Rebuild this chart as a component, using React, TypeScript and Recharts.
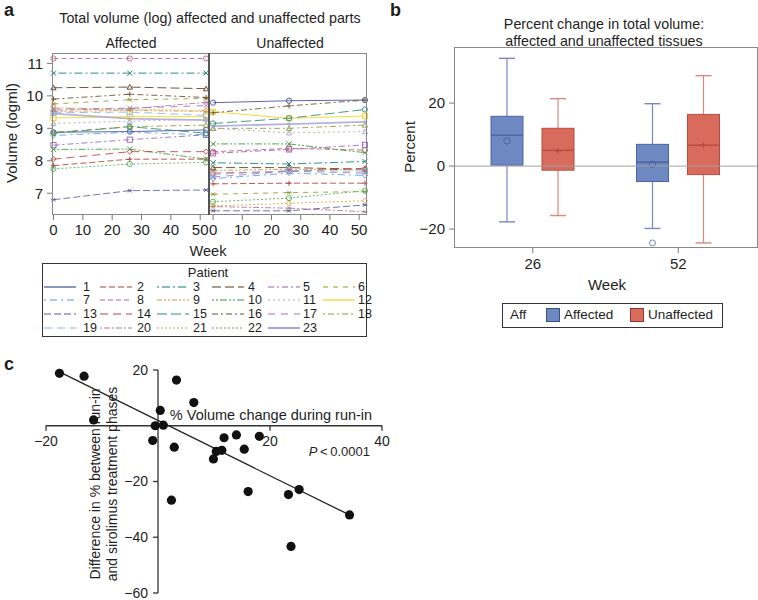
import React from 'react'
import {
  LineChart, Line, XAxis, YAxis, ComposedChart, Bar, ReferenceLine,
  ScatterChart, Scatter, ReferenceDot,
} from 'recharts'

// ---- panel a: volume per patient ----
const WEEKS = [0, 26, 52]
const PATIENTS = Array.from({ length: 23 }, (_, i) => String(i + 1))
const PATIENT_COLORS = [
  '#3f4f9a', '#b0403a', '#0f7c72', '#5a3a1e', '#9a5fb8', '#8f9a2a',
  '#5a9bd6', '#c0607a', '#c9973f', '#3a9a3a', '#a8a8c0', '#f2d21a',
  '#5a5fa0', '#c04040', '#2a8a70', '#6a4a2a', '#a070c0', '#8a9a40',
  '#8ab4dc', '#b07890', '#e8a040', '#50b050', '#a8a4d8',
]
const PATIENT_DASH = [
  undefined, '6 3', '2 3 8 3', '9 4', '6 3 2 3', '5 5',
  '2 4 7 4', '5 3', '5 2 2 2 2 2', '2 2 2 2 7 2', '2 3', undefined,
  '7 3', '8 5', '10 4', '6 3 2 3', '7 6', '2 3 6 3',
  '8 5', '2 2 6 2', '2 2', '2 2', undefined,
]
const MARKERS = ['circle', 'plus', 'x', 'triangle', 'square', 'star', 'diamond']

// log volume at week 0 / 26 / 52, one row per patient
const AFFECTED = [
  [8.88, 8.90, 8.95], [7.85, 8.05, 8.05], [10.70, 10.70, 10.70], [10.25, 10.27, 10.22],
  [8.48, 8.65, 8.80], [9.75, 9.88, 9.92], [8.78, 8.88, 8.80], [11.15, 11.15, 11.15],
  [9.52, 9.55, 9.52], [8.35, 8.36, 8.05], [9.15, 9.22, 9.28], [9.32, 9.36, 9.36],
  [6.80, 7.08, 7.10], [8.05, 8.28, 8.28], [8.85, 9.05, 8.85], [9.90, 10.05, 9.95],
  [9.60, 9.62, 9.70], [8.88, 9.05, 9.10], [9.48, 9.50, 9.40], [9.56, 9.60, 9.80],
  [9.64, 9.58, 9.55], [7.75, 7.90, 7.95], [9.45, 9.30, 9.25],
]
const UNAFFECTED = [
  [9.79, 9.85, 9.87], [7.29, 7.31, 7.31], [7.94, 7.90, 7.98], [7.79, 7.79, 7.74],
  [8.23, 8.35, 8.49], [6.97, 7.02, 7.05], [7.45, 7.62, 7.55], [8.28, 8.38, 8.33],
  [7.70, 7.74, 7.72], [8.52, 8.52, 8.25], [9.00, 8.86, 8.90], [9.51, 9.31, 9.38],
  [6.46, 6.46, 6.64], [7.62, 7.67, 7.77], [9.15, 9.31, 9.58], [9.48, 9.69, 9.87],
  [7.50, 7.68, 7.62], [9.00, 9.00, 9.10], [7.58, 7.70, 7.68], [6.59, 6.54, 6.43],
  [6.61, 6.69, 6.77], [6.74, 6.85, 7.08], [9.07, 9.13, 9.20],
]
const A_YTICKS = [7, 8, 9, 10, 11]
const A_XTICKS = [0, 10, 20, 30, 40, 50]

// ---- panel b: percent change box plots ----
const B_WEEKS = ['26', '52']
const AFF_MIN = [-17.7, -19.8]
const AFF_Q1 = [0.3, -4.9]
const AFF_MED = [9.8, 1.2]
const AFF_Q3 = [15.8, 6.9]
const AFF_MAX = [34.2, 19.8]
const AFF_MEAN = [8.0, 0.6]
const AFF_OUTLIERS = [[], [-24.4]]
const UNA_MIN = [-15.7, -24.4]
const UNA_Q1 = [-1.3, -2.7]
const UNA_MED = [5.0, 6.6]
const UNA_Q3 = [12.0, 16.4]
const UNA_MAX = [21.4, 28.7]
const UNA_MEAN = [4.8, 6.7]
const B_YTICKS = [-20, 0, 20]

// ---- panel c: run-in change vs difference ----
const C_X = [-17.6, -13.2, -11.5, -0.95, -0.5, 0.4, 0.95, 2.9, 2.4, 3.3, 6.4, 9.9,
  10.4, 11.4, 11.8, 14.0, 15.4, 16.1, 18.1, 23.3, 23.75, 25.2, 34.2]
const C_Y = [18.8, 17.8, 2.1, -5.3, 0, 5.5, 0.2, -7.7, -26.7, 16.4, 8.3, -11.9,
  -9.2, -8.8, -4.3, -3.3, -8.4, -23.6, -3.8, -24.7, -43.3, -22.9, -32.0]
const FIT_X = [-17.6, 34.2]
const FIT_Y = [19.3, -32.0]
const C_XTICKS = [-20, 20, 40]
const C_YTICKS = [20, -20, -40, -60]

const FONT = '"Liberation Sans", Arial, sans-serif'
const INK = '#1e1e1e'
const minus = (v: number | string) => String(v).replace('-', '\u2212')

const rowsFor = (vals: number[][]) =>
  WEEKS.map((w, wi) => {
    const row: Record<string, number> = { week: w }
    PATIENTS.forEach((p, pi) => { row['p' + p] = vals[pi][wi] })
    return row
  })
const ROWS_AFF = rowsFor(AFFECTED)
const ROWS_UNA = rowsFor(UNAFFECTED)

const BOX_ROWS = B_WEEKS.map((w, i) => ({
  week: w,
  aff: { min: AFF_MIN[i], q1: AFF_Q1[i], med: AFF_MED[i], q3: AFF_Q3[i], max: AFF_MAX[i], mean: AFF_MEAN[i], out: AFF_OUTLIERS[i] },
  una: { min: UNA_MIN[i], q1: UNA_Q1[i], med: UNA_MED[i], q3: UNA_Q3[i], max: UNA_MAX[i], mean: UNA_MEAN[i], out: [] as number[] },
}))

const C_POINTS = C_X.map((x, i) => ({ x, y: C_Y[i] }))

function markerDot(kind: string, color: string) {
  return (props: any) => {
    const { cx, cy, index } = props
    if (cx == null || cy == null) return <g key={index} />
    const s = 2.6
    const common = { stroke: color, strokeWidth: 0.9, fill: 'none' }
    let el: React.ReactNode
    switch (kind) {
      case 'circle': el = <circle cx={cx} cy={cy} r={s} {...common} />; break
      case 'plus': el = <path d={`M${cx - s},${cy}H${cx + s}M${cx},${cy - s}V${cy + s}`} {...common} />; break
      case 'x': el = <path d={`M${cx - s},${cy - s}L${cx + s},${cy + s}M${cx - s},${cy + s}L${cx + s},${cy - s}`} {...common} />; break
      case 'triangle': el = <path d={`M${cx},${cy - s}L${cx + s},${cy + s * 0.8}L${cx - s},${cy + s * 0.8}Z`} {...common} />; break
      case 'square': el = <rect x={cx - s} y={cy - s} width={2 * s} height={2 * s} {...common} />; break
      case 'star': el = <path d={`M${cx - s},${cy}H${cx + s}M${cx - s * 0.7},${cy - s * 0.7}L${cx + s * 0.7},${cy + s * 0.7}M${cx - s * 0.7},${cy + s * 0.7}L${cx + s * 0.7},${cy - s * 0.7}`} {...common} />; break
      default: el = <path d={`M${cx},${cy - s}L${cx + s},${cy}L${cx},${cy + s}L${cx - s},${cy}Z`} {...common} />
    }
    return <g key={index}>{el}</g>
  }
}

function patientLines() {
  return PATIENTS.map((p, i) => (
    <Line
      key={p}
      dataKey={'p' + p}
      type="linear"
      stroke={PATIENT_COLORS[i]}
      strokeWidth={i === 22 ? 1.8 : 1}
      strokeDasharray={PATIENT_DASH[i]}
      strokeOpacity={0.85}
      dot={markerDot(MARKERS[i % MARKERS.length], PATIENT_COLORS[i])}
      activeDot={false}
      isAnimationActive={false}
    />
  ))
}

function boxShape(key: 'aff' | 'una', fill: string, edge: string, whisker: string) {
  return (props: any) => {
    const { x, y, width, height, payload } = props
    const b = payload[key]
    const top = Math.min(y, y + height)
    const k = Math.abs(height) / (b.max - b.min)
    const toY = (v: number) => top + (b.max - v) * k
    const cx = x + width / 2
    const cap = width * 0.25
    return (
      <g>
        <line x1={cx} x2={cx} y1={toY(b.max)} y2={toY(b.q3)} stroke={whisker} strokeWidth={1.2} />
        <line x1={cx} x2={cx} y1={toY(b.q1)} y2={toY(b.min)} stroke={whisker} strokeWidth={1.2} />
        <line x1={cx - cap} x2={cx + cap} y1={toY(b.max)} y2={toY(b.max)} stroke={whisker} strokeWidth={1.4} />
        <line x1={cx - cap} x2={cx + cap} y1={toY(b.min)} y2={toY(b.min)} stroke={whisker} strokeWidth={1.4} />
        <rect x={x} y={toY(b.q3)} width={width} height={toY(b.q1) - toY(b.q3)} fill={fill} stroke={edge} strokeWidth={1} />
        <line x1={x} x2={x + width} y1={toY(b.med)} y2={toY(b.med)} stroke={edge} strokeWidth={1.4} />
        {key === 'aff'
          ? <circle cx={cx} cy={toY(b.mean)} r={3.2} fill="none" stroke={edge} strokeWidth={1} />
          : <path d={`M${cx - 3},${toY(b.mean)}H${cx + 3}M${cx},${toY(b.mean) - 3}V${toY(b.mean) + 3}`} stroke={edge} strokeWidth={1.2} />}
        {b.out.map((o: number, j: number) => (
          <circle key={j} cx={cx} cy={toY(o)} r={3} fill="none" stroke={whisker} strokeWidth={1} />
        ))}
      </g>
    )
  }
}

const Txt = ({ x, y, children, size = 14, rotate = false, weight = 400, anchor = 'middle', style = {} }: any) => (
  <div
    style={{
      position: 'absolute', left: x, top: y, whiteSpace: 'nowrap', fontSize: size, fontWeight: weight,
      color: INK, lineHeight: 1,
      transform: `translate(${anchor === 'start' ? '0' : anchor === 'end' ? '-100%' : '-50%'}, -50%)${rotate ? ' rotate(-90deg)' : ''}`,
      ...style,
    }}
  >
    {children}
  </div>
)

const LEG_SAMPLE_X = [44, 100, 157, 212, 268, 323]
const LEG_LABEL_X = [83, 137, 193, 248, 303, 358]
const LEG_ROW_Y = [287, 300, 314, 328]

function PatientLegend() {
  return (
    <>
      <div style={{ position: 'absolute', left: 42, top: 263, width: 325, height: 74, border: '1px solid #333', boxSizing: 'border-box' }} />
      <Txt x={208} y={272} size={13}>Patient</Txt>
      {PATIENTS.map((p, i) => {
        const c = i % 6
        const r = Math.floor(i / 6)
        return (
          <React.Fragment key={p}>
            <svg style={{ position: 'absolute', left: LEG_SAMPLE_X[c], top: LEG_ROW_Y[r] - 3 }} width={32} height={6}>
              <line x1={0} x2={32} y1={3} y2={3} stroke={PATIENT_COLORS[i]} strokeWidth={i === 22 ? 2 : 1.2} strokeDasharray={PATIENT_DASH[i]} />
            </svg>
            <Txt x={LEG_LABEL_X[c]} y={LEG_ROW_Y[r]} size={12.5} anchor="start">{p}</Txt>
          </React.Fragment>
        )
      })}
    </>
  )
}

const tickStyle = { fontSize: 15, fill: INK, fontFamily: FONT }

export default function App() {
  return (
    <div style={{ position: 'absolute', left: 0, top: 0, width: 758, height: 600, background: '#fff', fontFamily: FONT, overflow: 'hidden' }}>
      {/* panel a */}
      <Txt x={4} y={10} size={18} weight={700} anchor="start">a</Txt>
      <Txt x={210} y={18} size={14.3}>Total volume (log) affected and unaffected parts</Txt>
      <Txt x={131} y={43} size={14}>Affected</Txt>
      <Txt x={290} y={43} size={14}>Unaffected</Txt>
      <Txt x={11} y={133} size={15} rotate>Volume (logml)</Txt>

      <LineChart width={215} height={245} data={ROWS_AFF} margin={{ top: 53, right: 6, bottom: 0, left: 0 }}
        style={{ position: 'absolute', left: 0, top: 0 }}>
        <XAxis dataKey="week" type="number" domain={[-0.5, 53]} ticks={A_XTICKS} height={30}
          axisLine={false} tickSize={5} tickMargin={4} tick={tickStyle} tickLine={{ stroke: '#777' }} interval={0} />
        <YAxis type="number" domain={[6.33, 11.32]} ticks={A_YTICKS} width={52}
          axisLine={false} tickSize={5} tickMargin={4} tick={tickStyle} tickLine={{ stroke: '#777' }} interval={0} />
        {patientLines()}
      </LineChart>

      <LineChart width={162} height={245} data={ROWS_UNA} margin={{ top: 53, right: 4, bottom: 0, left: 0 }}
        style={{ position: 'absolute', left: 209, top: 0 }}>
        <XAxis dataKey="week" type="number" domain={[-1.4, 52.7]} ticks={A_XTICKS} height={30}
          axisLine={false} tickSize={5} tickMargin={4} tick={tickStyle} tickLine={{ stroke: '#777' }} interval={0} />
        <YAxis hide type="number" domain={[6.33, 11.32]} />
        {patientLines()}
      </LineChart>

      <div style={{ position: 'absolute', left: 52, top: 53, width: 315, height: 162, border: '1px solid #888', boxSizing: 'border-box', pointerEvents: 'none' }} />
      <div style={{ position: 'absolute', left: 208, top: 53, width: 2, height: 162, background: '#555' }} />
      <Txt x={208} y={251} size={14.5}>Week</Txt>
      <PatientLegend />

      {/* panel b */}
      <Txt x={390} y={10} size={18} weight={700} anchor="start">b</Txt>
      <Txt x={604} y={24} size={14.3}>Percent change in total volume:</Txt>
      <Txt x={604} y={41} size={14.3}>affected and unaffected tissues</Txt>
      <Txt x={409} y={147} size={15} rotate>Percent</Txt>

      <ComposedChart width={378} height={300} data={BOX_ROWS} margin={{ top: 47, right: 1, bottom: 0, left: 0 }}
        barSize={32} barGap={19} style={{ position: 'absolute', left: 380, top: 0 }}>
        <XAxis dataKey="week" height={52} padding={{ left: 6, right: 6 }} axisLine={false}
          tickSize={5} tickMargin={5} tick={tickStyle} tickLine={{ stroke: '#777' }} />
        <YAxis type="number" domain={[-26, 37.8]} ticks={B_YTICKS} width={74} axisLine={false}
          tickSize={5} tickMargin={4} tick={tickStyle} tickLine={{ stroke: '#777' }} tickFormatter={minus} interval={0} />
        <ReferenceLine y={0} stroke="#a0a0a0" strokeWidth={1} />
        <Bar dataKey={(d: any) => [d.aff.min, d.aff.max]} isAnimationActive={false}
          shape={boxShape('aff', '#6e88c2', '#4a64a3', '#7b86c0')} />
        <Bar dataKey={(d: any) => [d.una.min, d.una.max]} isAnimationActive={false}
          shape={boxShape('una', '#d86b5c', '#b84c40', '#d98680')} />
      </ComposedChart>

      <div style={{ position: 'absolute', left: 454, top: 47, width: 304, height: 201, border: '1px solid #888', boxSizing: 'border-box', pointerEvents: 'none' }} />
      <Txt x={607} y={284} size={15}>Week</Txt>
      <div style={{ position: 'absolute', left: 502, top: 303, width: 221, height: 25, border: '1px solid #333', boxSizing: 'border-box' }} />
      <Txt x={510} y={315} size={13.5} anchor="start">Aff</Txt>
      <div style={{ position: 'absolute', left: 546, top: 308, width: 14, height: 14, background: '#6e88c2', border: '1px solid #3d4f80', boxSizing: 'border-box' }} />
      <Txt x={564} y={315} size={13.5} anchor="start">Affected</Txt>
      <div style={{ position: 'absolute', left: 630, top: 308, width: 14, height: 14, background: '#d86b5c', border: '1px solid #8a3a30', boxSizing: 'border-box' }} />
      <Txt x={648} y={315} size={13.5} anchor="start">Unaffected</Txt>

      {/* panel c */}
      <Txt x={4} y={364} size={18} weight={700} anchor="start">c</Txt>
      <ScatterChart width={420} height={265} margin={{ top: 30, right: 38, bottom: 12, left: 46 }}
        style={{ position: 'absolute', left: 0, top: 340 }}>
        <XAxis hide type="number" dataKey="x" domain={[-20, 40]} />
        <YAxis hide type="number" dataKey="y" domain={[-60, 20]} />
        <ReferenceLine y={0} stroke="#333" strokeWidth={1.3} />
        <ReferenceLine x={0} stroke="#333" strokeWidth={1.3} />
        {C_XTICKS.map(t => (
          <ReferenceLine key={'xt' + t} segment={[{ x: t, y: 0 }, { x: t, y: -1.8 }]} stroke="#333" strokeWidth={1.3} />
        ))}
        {C_YTICKS.map(t => (
          <ReferenceLine key={'yt' + t} segment={[{ x: 0, y: t }, { x: -0.9, y: t }]} stroke="#333" strokeWidth={1.3} />
        ))}
        {C_XTICKS.map(t => (
          <ReferenceDot key={'xl' + t} x={t} y={0} r={1} fill="none" stroke="none"
            label={{ value: minus(t), position: 'bottom', offset: 9, fill: INK, fontSize: 14, fontFamily: FONT }} />
        ))}
        {C_YTICKS.map(t => (
          <ReferenceDot key={'yl' + t} x={0} y={t} r={1} fill="none" stroke="none"
            label={{ value: minus(t), position: 'left', offset: 9, fill: INK, fontSize: 14, fontFamily: FONT }} />
        ))}
        <ReferenceLine segment={[{ x: FIT_X[0], y: FIT_Y[0] }, { x: FIT_X[1], y: FIT_Y[1] }]} stroke="#222" strokeWidth={1.3} />
        <Scatter data={C_POINTS} isAnimationActive={false}
          shape={(p: any) => <circle cx={p.cx} cy={p.cy} r={4.6} fill="#111" />} />
      </ScatterChart>
      <Txt x={271} y={415} size={14.5}>% Volume change during run-in</Txt>
      <Txt x={370} y={451} size={13} anchor="end"><i>P</i>{'\u2009<\u20090.0001'}</Txt>
      <Txt x={95} y={484} size={14} rotate>Difference in % between run-in</Txt>
      <Txt x={112} y={484} size={14} rotate>and sirolimus treatment phases</Txt>
    </div>
  )
}
